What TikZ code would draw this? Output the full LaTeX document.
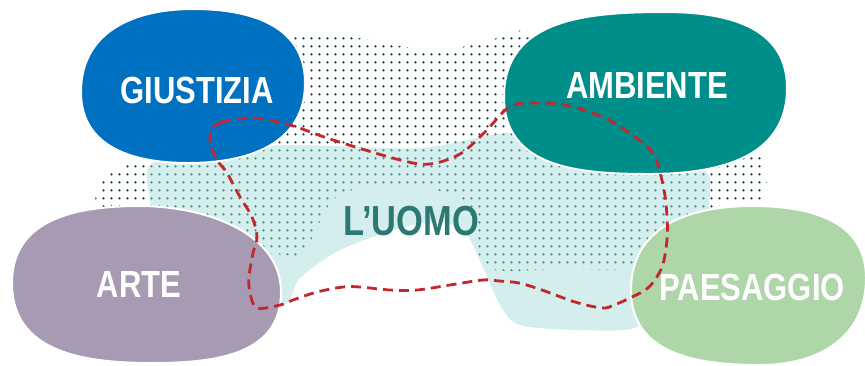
\documentclass[tikz,border=0pt]{standalone}
\usepackage{fontspec}
\setmainfont{Liberation Sans}
\newfontfamily\blobfont[FakeStretch=0.82]{Liberation Sans}
\usetikzlibrary{patterns.meta}

\definecolor{giustiziablue}{HTML}{0070C0}
\definecolor{ambienteteal}{HTML}{008E8A}
\definecolor{artegrey}{HTML}{A89AB3}
\definecolor{paesagreen}{HTML}{AED6A8}
\definecolor{uomocyan}{HTML}{D3EEEC}
\definecolor{uomotext}{HTML}{2E7873}
\definecolor{dotdark}{HTML}{1D3D47}
\definecolor{dotlight}{HTML}{4F8A8A}
\definecolor{routered}{HTML}{C1272D}

\tikzset{
  blob/.style={draw=white, line width=1pt, looseness=1.1},
  blobtext/.style={font=\blobfont\bfseries\fontsize{18.9}{20}\selectfont, text=white, inner sep=0pt},
  uomotext/.style={font=\blobfont\bfseries\fontsize{21}{24}\selectfont, text=uomotext, inner sep=0pt},
  dotfill/.style={pattern={Dots[radius=0.7pt, distance=4pt]}, pattern color=#1},
  routeline/.style={routered, line width=1.4pt, dash pattern=on 5pt off 3pt}
}

% shapes used twice
\def\dotcloud{plot[smooth cycle, tension=0.55] coordinates {(96,205) (103,178) (130,163) (200,120) (270,45) (300,37) (350,37) (400,46) (445,50) (490,40) (535,34) (650,100) (740,148) (762,158) (763,198) (715,207) (660,250) (635,268) (560,269) (487,268) (476,230) (460,200) (430,189) (380,187) (335,198) (305,250) (285,255) (200,240) (120,215)}}
\def\uomoshape{plot[smooth cycle, tension=0.5] coordinates {(150,200) (150,165) (200,152) (290,145) (420,148) (512,133) (600,150) (700,167) (709,205) (695,280) (640,326) (580,330) (520,325) (500,305) (482,265) (466,234) (442,222) (400,228) (340,250) (300,278) (283,305) (230,285) (160,240)}}

\begin{document}
\begin{tikzpicture}[x=0.5pt, y=-0.5pt]
\useasboundingbox (0,0) rectangle (865,365);

% dotted cloud and L'UOMO area
\fill[dotfill=dotdark] \dotcloud;
\fill[uomocyan] \uomoshape;
\begin{scope}
  \clip \uomoshape;
  \fill[dotfill=dotlight] \dotcloud;
\end{scope}

% the four blobs (left, top, right, bottom)
\filldraw[blob, fill=giustiziablue] (81,92) to[out=90,in=180] (193,9) to[out=0,in=90] (305,83) to[out=-90,in=0] (188,163) to[out=180,in=-90] cycle;
\filldraw[blob, fill=ambienteteal] (504,97) to[out=90,in=180] (665,12) to[out=0,in=90] (787,88) to[out=-90,in=0] (649,174) to[out=180,in=-90] cycle;
\filldraw[blob, fill=artegrey] (12,283) to[out=90,in=180] (140,206) to[out=0,in=90,looseness=0.95] (281,292) to[out=-90,in=0] (152,363) to[out=180,in=-90] cycle;
\filldraw[blob, fill=paesagreen] (631,290) to[out=90,in=180] (752,206) to[out=0,in=90] (866,278) to[out=-90,in=0] (760,365) to[out=180,in=-90] cycle;

\node[blobtext] (giustizia) at (197,90) {GIUSTIZIA};
\node[blobtext] (ambiente) at (647,85) {AMBIENTE};
\node[blobtext] (arte) at (139,284) {ARTE};
\node[blobtext] (paesaggio) at (752,287) {PAESAGGIO};
\node[uomotext] (uomo) at (411,221) {L’UOMO};

% dashed route
\draw[routeline] plot[smooth cycle, tension=0.55] coordinates {(212,130) (222,122) (253,118) (290,125) (333,140) (400,160) (430,164) (460,154) (485,132) (509,107) (532,103) (565,105) (605,118) (639,140) (655,157) (664,190) (667,217) (667,240) (662,267) (649,287) (632,297) (614,305) (602,308) (575,302) (542,290) (519,283) (499,281) (483,280) (450,285) (417,290) (390,290) (360,287) (343,287) (317,292) (293,300) (280,305) (257,308) (250,293) (249,277) (253,253) (257,237) (252,217) (240,197) (227,173) (217,160) (210,143)};

\end{tikzpicture}
\end{document}
